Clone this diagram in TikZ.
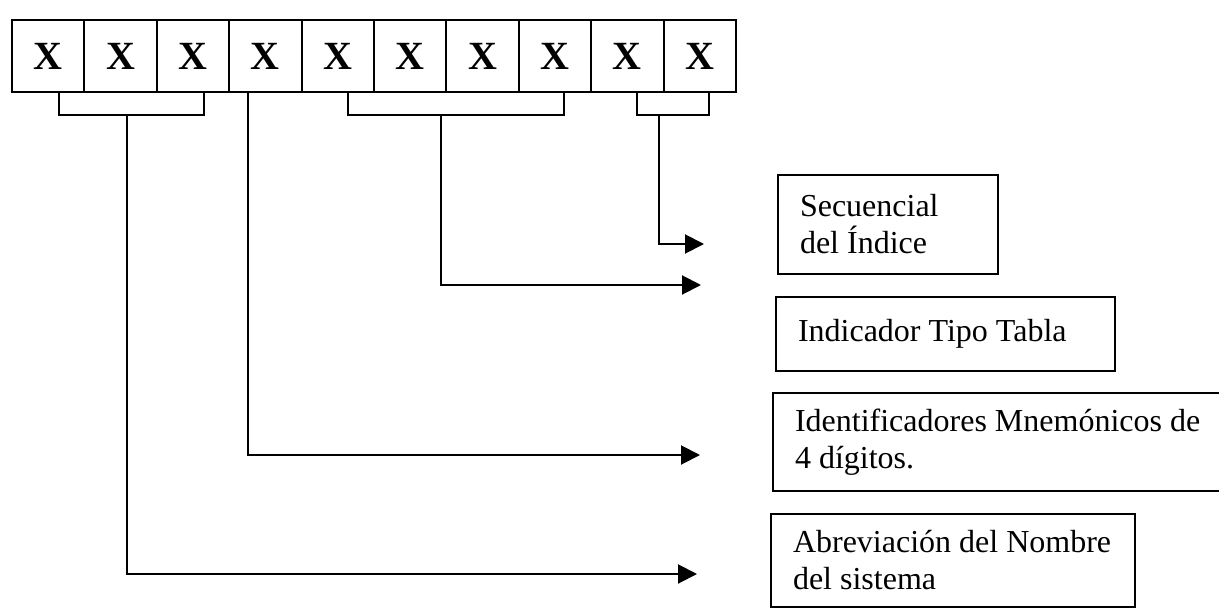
\documentclass[tikz,border=0pt]{standalone}
\usepackage{fontspec}
\setmainfont{Liberation Serif}
\usetikzlibrary{arrows.meta,calc}
\begin{document}
\begin{tikzpicture}[x=0.5pt,y=-0.5pt,
  cell/.style={draw,line width=1pt,minimum width=36.2pt,minimum height=36pt,inner sep=0pt,font=\fontsize{20}{24}\selectfont\bfseries},
  lbl/.style={draw,line width=1pt,align=flush left,inner xsep=11pt,inner ysep=0pt,font=\fontsize{16}{18.5}\selectfont},
  wire/.style={line width=1pt},
  arr/.style={line width=1pt,-{Triangle[length=9.5pt,width=9.5pt]}}]
\useasboundingbox (0,0) rectangle (1219,610);
% cells
\foreach \i in {1,...,10} \node[cell] (c\i) at ({12+72.4*(\i-0.5)},56) {X};
% description boxes
\node[lbl,minimum width=110pt,minimum height=49.5pt,text width=88pt] (sec) at (888,224.5) {\mbox{Secuencial}\\\mbox{del Índice}};
\node[lbl,minimum width=169.5pt,minimum height=37pt,text width=147.5pt] (ind) at (945.5,334) {\mbox{Indicador Tipo Tabla}};
\node[lbl,minimum width=228.5pt,minimum height=49pt,text width=206.5pt] (ide) at (1001.5,442) {\mbox{Identificadores Mnemónicos de}\\\mbox{4 dígitos.}};
\node[lbl,minimum width=182pt,minimum height=46.5pt,text width=160pt] (abr) at (953,560.5) {\mbox{Abreviación del Nombre}\\\mbox{del sistema}};
% bracket corners and stem points
\coordinate (b1l) at (59,92);  \coordinate (b1r) at (204,92);  \coordinate (b1s) at (127,115);
\coordinate (s4) at (248,92);
\coordinate (b2l) at (348,92); \coordinate (b2r) at (564,92); \coordinate (b2s) at (441,115);
\coordinate (b4l) at (637,92); \coordinate (b4r) at (709,92); \coordinate (b4s) at (659,115);
% arrow tips
\coordinate (tabr) at (697,574);
\coordinate (tide) at (700,455);
\coordinate (tind) at (701,285);
\coordinate (tsec) at (704,244);
% brackets
\draw[wire] (b1l) |- (b1s) -| (b1r);
\draw[wire] (b2l) |- (b2s) -| (b2r);
\draw[wire] (b4l) |- (b4s) -| (b4r);
% connectors
\draw[arr] (b1s) |- (tabr);
\draw[arr] (s4) |- (tide);
\draw[arr] (b2s) |- (tind);
\draw[arr] (b4s) |- (tsec);
\end{tikzpicture}
\end{document}
